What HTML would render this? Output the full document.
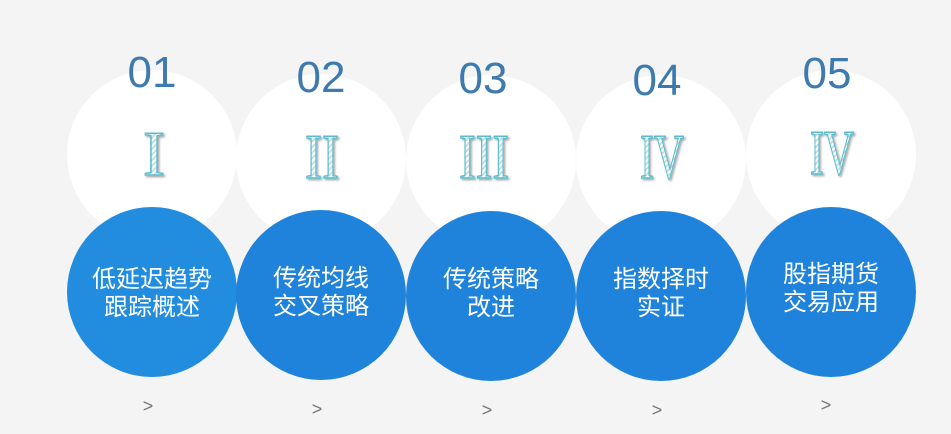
<!DOCTYPE html>
<html><head><meta charset="utf-8"><style>
body{margin:0;width:951px;height:429px;background:#f4f4f4;overflow:hidden}
</style></head><body>
<svg width="951" height="429" xmlns="http://www.w3.org/2000/svg">
<defs>
<pattern id="h" width="4" height="4" patternUnits="userSpaceOnUse" patternTransform="rotate(45)">
<rect width="4" height="4" fill="#ffffff"/><rect width="1.5" height="4" fill="#a8dde6"/>
</pattern>
<filter id="s" x="-20%" y="-20%" width="140%" height="140%"><feDropShadow dx="1.5" dy="1.5" stdDeviation="1" flood-color="#000" flood-opacity="0.35"/></filter>
</defs>
<g font-family="Liberation Sans, sans-serif">
<circle cx="152" cy="155" r="85" fill="#fff"/>
<circle cx="321" cy="159" r="85" fill="#fff"/>
<circle cx="491" cy="160" r="85" fill="#fff"/>
<circle cx="661" cy="160" r="85" fill="#fff"/>
<circle cx="831" cy="155" r="85" fill="#fff"/>
<g fill="#3d7ab0" font-size="44" text-anchor="middle">
<text x="152" y="87">01</text><text x="321" y="92">02</text><text x="483" y="93">03</text><text x="657" y="95">04</text><text x="827" y="88">05</text>
</g>
<g font-family="Liberation Serif, serif" font-size="64" text-anchor="middle" fill="url(#h)" stroke="#5fbccc" stroke-width="1.5" filter="url(#s)">
<text x="154" y="175" textLength="22" lengthAdjust="spacingAndGlyphs">I</text>
<text x="322" y="178" textLength="34" lengthAdjust="spacingAndGlyphs">II</text>
<text x="484" y="178" textLength="50" lengthAdjust="spacingAndGlyphs">III</text>
<text x="662" y="178" textLength="44" lengthAdjust="spacingAndGlyphs">IV</text>
<text x="832" y="174" textLength="44" lengthAdjust="spacingAndGlyphs">IV</text>
</g>
<circle cx="152" cy="292" r="85" fill="#228ddf"/>
<circle cx="321" cy="295" r="85" fill="#2083db"/>
<circle cx="491" cy="296" r="85" fill="#2083db"/>
<circle cx="661" cy="296" r="85" fill="#2083db"/>
<circle cx="831" cy="292" r="85" fill="#2083db"/>
<g fill="#fff" font-size="24" text-anchor="middle" font-family="Liberation Sans, Noto Sans CJK SC, sans-serif">
<text x="152" y="287">低延迟趋势</text><text x="152" y="315">跟踪概述</text>
<text x="321" y="286">传统均线</text><text x="321" y="314">交叉策略</text>
<text x="491" y="287">传统策略</text><text x="491" y="315">改进</text>
<text x="661" y="287">指数择时</text><text x="661" y="315">实证</text>
<text x="831" y="282">股指期货</text><text x="831" y="310">交易应用</text>
</g>
<g fill="#777" font-size="18" text-anchor="middle">
<text x="148" y="412">&gt;</text><text x="317" y="415">&gt;</text><text x="487" y="416">&gt;</text><text x="657" y="416">&gt;</text><text x="826" y="411">&gt;</text>
</g>
</g>
</svg>
</body></html>
